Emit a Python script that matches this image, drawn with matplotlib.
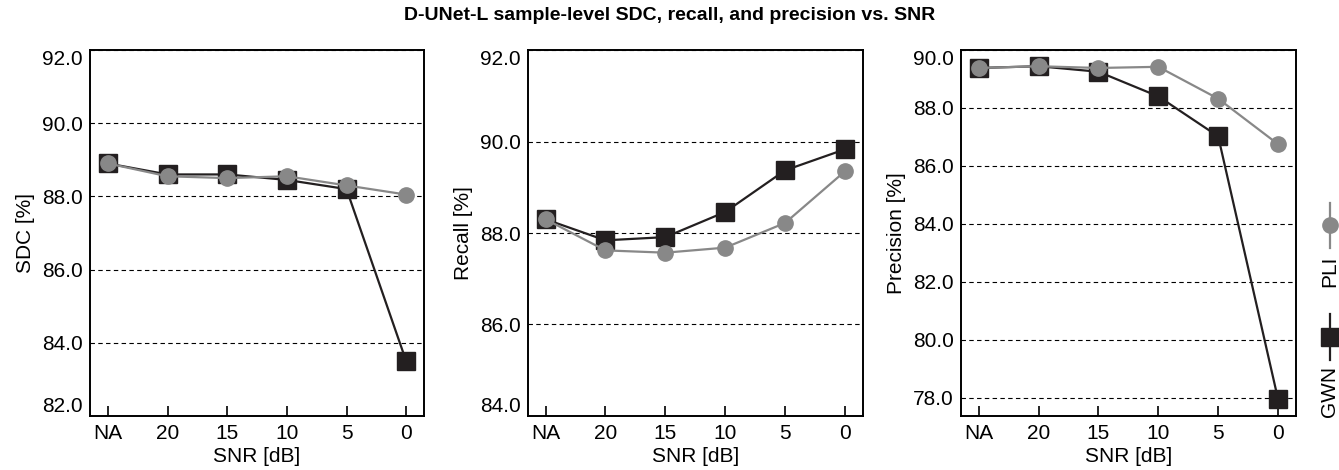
import matplotlib
matplotlib.use("Agg")
import matplotlib.pyplot as plt
from matplotlib.lines import Line2D
from matplotlib.ticker import FormatStrFormatter

plt.rcParams["font.family"] = ["Liberation Sans", "DejaVu Sans"]

snr_labels = ["NA", "20", "15", "10", "5", "0"]

sdc_gwn = [88.9, 88.6, 88.6, 88.45, 88.2, 83.5]
sdc_pli = [88.9, 88.55, 88.5, 88.55, 88.3, 88.05]

recall_gwn = [88.3, 87.84, 87.91, 88.46, 89.37, 89.83]
recall_pli = [88.3, 87.62, 87.57, 87.68, 88.22, 89.35]

precision_gwn = [89.38, 89.44, 89.25, 88.4, 87.02, 77.95]
precision_pli = [89.38, 89.44, 89.38, 89.42, 88.32, 86.75]

GWN_COLOR = "#231f20"
PLI_COLOR = "#888888"
FS = 15

panels = [
    ("SDC [%]", sdc_gwn, sdc_pli, (82, 92), [82, 84, 86, 88, 90, 92], 0.0672, 0.3167),
    ("Recall [%]", recall_gwn, recall_pli, (84, 92), [84, 86, 88, 90, 92], 0.394, 0.6445),
    ("Precision [%]", precision_gwn, precision_pli, (77.37, 90), [78, 80, 82, 84, 86, 88, 90], 0.7175, 0.9679),
]

fig = plt.figure(figsize=(13.39, 4.70), dpi=100)
bottom, top = 0.1149, 0.8936

for ylabel, gwn, pli, ylim, yticks, left, right in panels:
    ax = fig.add_axes([left, bottom, right - left, top - bottom])
    x = range(len(snr_labels))
    ax.plot(x, gwn, color=GWN_COLOR, lw=1.6, marker="s", ms=13, zorder=3)
    ax.plot(x, pli, color=PLI_COLOR, lw=1.6, marker="o", ms=11, zorder=4)
    ax.set_xlim(-0.3, 5.3)
    ax.set_ylim(*ylim)
    ax.set_yticks(yticks)
    ax.yaxis.set_major_formatter(FormatStrFormatter("%.1f"))
    ax.set_xticks(list(x))
    ax.set_xticklabels(snr_labels)
    ax.tick_params(axis="x", direction="in", length=7, width=1.2, labelsize=FS, pad=6)
    ax.tick_params(axis="y", length=0, labelsize=FS, pad=5)
    # keep the end labels inside the frame
    ylabels = ax.get_yticklabels()
    if yticks[-1] == ylim[1]:
        ylabels[-1].set_va("top")
    if yticks[0] == ylim[0]:
        ylabels[0].set_va("bottom")
    ax.grid(axis="y", linestyle=(0, (4, 3)), color="black", lw=0.8)
    ax.set_axisbelow(True)
    for sp in ax.spines.values():
        sp.set_linewidth(1.4)
    ax.set_xlabel("SNR [dB]", fontsize=FS, labelpad=3)
    ax.set_ylabel(ylabel, fontsize=FS, labelpad=5)

fig.suptitle("D-UNet-L sample-level SDC, recall, and precision vs. SNR",
             fontsize=14, fontweight="bold", y=0.985)

# vertical legend on the right edge
legend_items = [
    ("GWN", GWN_COLOR, "s", 13, 0.283, 0.168),
    ("PLI", PLI_COLOR, "o", 11, 0.521, 0.423),
]
xc = 1330 / 1339
for label, color, marker, ms, ymid, ytext in legend_items:
    fig.add_artist(Line2D([xc, xc], [ymid - 0.048, ymid + 0.048], color=color, lw=1.6,
                          transform=fig.transFigure))
    fig.add_artist(Line2D([xc], [ymid], color=color, marker=marker, ms=ms,
                          transform=fig.transFigure))
    fig.text(xc, ytext, label, rotation=90, ha="center", va="center", fontsize=FS)

fig.savefig("out.png", dpi=100)
